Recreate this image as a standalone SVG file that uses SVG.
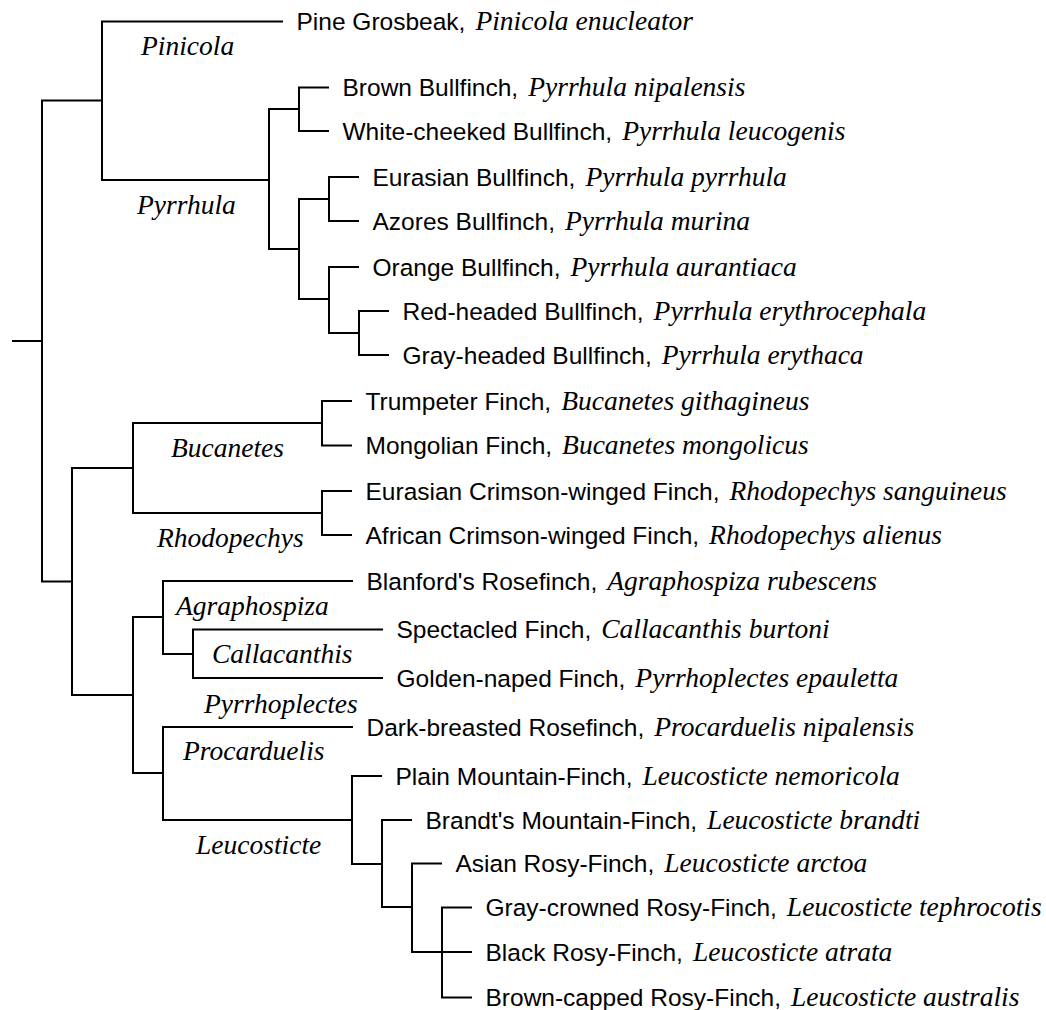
<svg xmlns="http://www.w3.org/2000/svg" width="1046" height="1010" viewBox="0 0 1046 1010">
<style>
.e{fill:none;stroke:#000;stroke-width:2;stroke-linejoin:miter;stroke-linecap:butt}
text{fill:#000}
.s{font-family:"Liberation Sans",Arial,sans-serif;font-size:24.5px}
.i{font-family:"Liberation Serif","Times New Roman",serif;font-style:italic;font-size:27.5px}
.c{font-family:"Liberation Serif","Times New Roman",serif;font-style:italic;font-size:27.5px}
</style>
<rect width="1046" height="1010" fill="#fff"/>
<g id="connectors">
<path class="e" d="M12 341H42"/>
<path class="e" d="M102 100.5H42V581.5H72"/>
<path class="e" d="M283 21.5H102V180H269"/>
<path class="e" d="M299 109H269V249H299"/>
<path class="e" d="M329 87.5H299V131H329"/>
<path class="e" d="M329 199H299V299H329"/>
<path class="e" d="M359 177H329V221H359"/>
<path class="e" d="M359 267H329V333H359"/>
<path class="e" d="M389 311H359V355H389"/>
<path class="e" d="M133 468H72V695H133"/>
<path class="e" d="M322 423H133V513H322"/>
<path class="e" d="M352 401H322V445.5H352"/>
<path class="e" d="M352 491H322V535H352"/>
<path class="e" d="M163 617H133V773H163"/>
<path class="e" d="M353 581H163V654H193"/>
<path class="e" d="M383 629.5H193V678H383"/>
<path class="e" d="M353 727H163V820H352"/>
<path class="e" d="M382 776H352V864H382"/>
<path class="e" d="M412 820H382V907H412"/>
<path class="e" d="M442 863.5H412V952H442"/>
<path class="e" d="M472 907.5H442V997.5H472M442 952H472"/>
</g>
<g id="clade-Pinicola"><text class="c" x="141" y="55">Pinicola</text></g>
<g id="clade-Pyrrhula"><text class="c" x="137" y="214">Pyrrhula</text></g>
<g id="clade-Bucanetes"><text class="c" x="171" y="457">Bucanetes</text></g>
<g id="clade-Rhodopechys"><text class="c" x="157" y="547">Rhodopechys</text></g>
<g id="clade-Agraphospiza"><text class="c" x="176" y="615">Agraphospiza</text></g>
<g id="clade-Callacanthis"><text class="c" x="212" y="663">Callacanthis</text></g>
<g id="clade-Pyrrhoplectes"><text class="c" x="204" y="713">Pyrrhoplectes</text></g>
<g id="clade-Procarduelis"><text class="c" x="183" y="760">Procarduelis</text></g>
<g id="clade-Leucosticte"><text class="c" x="196" y="854">Leucosticte</text></g>
<g id="leaf-pine"><text x="296.5" y="30"><tspan class="s">Pine Grosbeak,</tspan><tspan class="i" dx="10">Pinicola enucleator</tspan></text></g>
<g id="leaf-brown"><text x="342.5" y="96"><tspan class="s">Brown Bullfinch,</tspan><tspan class="i" dx="10">Pyrrhula nipalensis</tspan></text></g>
<g id="leaf-whitecheeked"><text x="342.5" y="139.5"><tspan class="s">White-cheeked Bullfinch,</tspan><tspan class="i" dx="10">Pyrrhula leucogenis</tspan></text></g>
<g id="leaf-eurasian"><text x="372.5" y="185.5"><tspan class="s">Eurasian Bullfinch,</tspan><tspan class="i" dx="10">Pyrrhula pyrrhula</tspan></text></g>
<g id="leaf-azores"><text x="372.5" y="229.5"><tspan class="s">Azores Bullfinch,</tspan><tspan class="i" dx="10">Pyrrhula murina</tspan></text></g>
<g id="leaf-orange"><text x="372.5" y="275.5"><tspan class="s">Orange Bullfinch,</tspan><tspan class="i" dx="10">Pyrrhula aurantiaca</tspan></text></g>
<g id="leaf-redheaded"><text x="402.5" y="319.5"><tspan class="s">Red-headed Bullfinch,</tspan><tspan class="i" dx="10">Pyrrhula erythrocephala</tspan></text></g>
<g id="leaf-grayheaded"><text x="402.5" y="363.5"><tspan class="s">Gray-headed Bullfinch,</tspan><tspan class="i" dx="10">Pyrrhula erythaca</tspan></text></g>
<g id="leaf-trumpeter"><text x="365.5" y="409.5"><tspan class="s">Trumpeter Finch,</tspan><tspan class="i" dx="10">Bucanetes githagineus</tspan></text></g>
<g id="leaf-mongolian"><text x="365.5" y="454"><tspan class="s">Mongolian Finch,</tspan><tspan class="i" dx="10">Bucanetes mongolicus</tspan></text></g>
<g id="leaf-eurcrimson"><text x="365.5" y="499.5"><tspan class="s">Eurasian Crimson-winged Finch,</tspan><tspan class="i" dx="10">Rhodopechys sanguineus</tspan></text></g>
<g id="leaf-afrcrimson"><text x="365.5" y="543.5"><tspan class="s">African Crimson-winged Finch,</tspan><tspan class="i" dx="10">Rhodopechys alienus</tspan></text></g>
<g id="leaf-blanford"><text x="366.5" y="589.5"><tspan class="s">Blanford's Rosefinch,</tspan><tspan class="i" dx="10">Agraphospiza rubescens</tspan></text></g>
<g id="leaf-spectacled"><text x="396.5" y="638"><tspan class="s">Spectacled Finch,</tspan><tspan class="i" dx="10">Callacanthis burtoni</tspan></text></g>
<g id="leaf-goldennaped"><text x="396.5" y="686.5"><tspan class="s">Golden-naped Finch,</tspan><tspan class="i" dx="10">Pyrrhoplectes epauletta</tspan></text></g>
<g id="leaf-darkbreasted"><text x="366.5" y="735.5"><tspan class="s">Dark-breasted Rosefinch,</tspan><tspan class="i" dx="10">Procarduelis nipalensis</tspan></text></g>
<g id="leaf-plain"><text x="395.5" y="784.5"><tspan class="s">Plain Mountain-Finch,</tspan><tspan class="i" dx="10">Leucosticte nemoricola</tspan></text></g>
<g id="leaf-brandt"><text x="425.5" y="828.5"><tspan class="s">Brandt's Mountain-Finch,</tspan><tspan class="i" dx="10">Leucosticte brandti</tspan></text></g>
<g id="leaf-asian"><text x="455.5" y="872"><tspan class="s">Asian Rosy-Finch,</tspan><tspan class="i" dx="10">Leucosticte arctoa</tspan></text></g>
<g id="leaf-graycrowned"><text x="485.5" y="916"><tspan class="s">Gray-crowned Rosy-Finch,</tspan><tspan class="i" dx="10">Leucosticte tephrocotis</tspan></text></g>
<g id="leaf-black"><text x="485.5" y="960.5"><tspan class="s">Black Rosy-Finch,</tspan><tspan class="i" dx="10">Leucosticte atrata</tspan></text></g>
<g id="leaf-browncapped"><text x="485.5" y="1006"><tspan class="s">Brown-capped Rosy-Finch,</tspan><tspan class="i" dx="10">Leucosticte australis</tspan></text></g>
</svg>
